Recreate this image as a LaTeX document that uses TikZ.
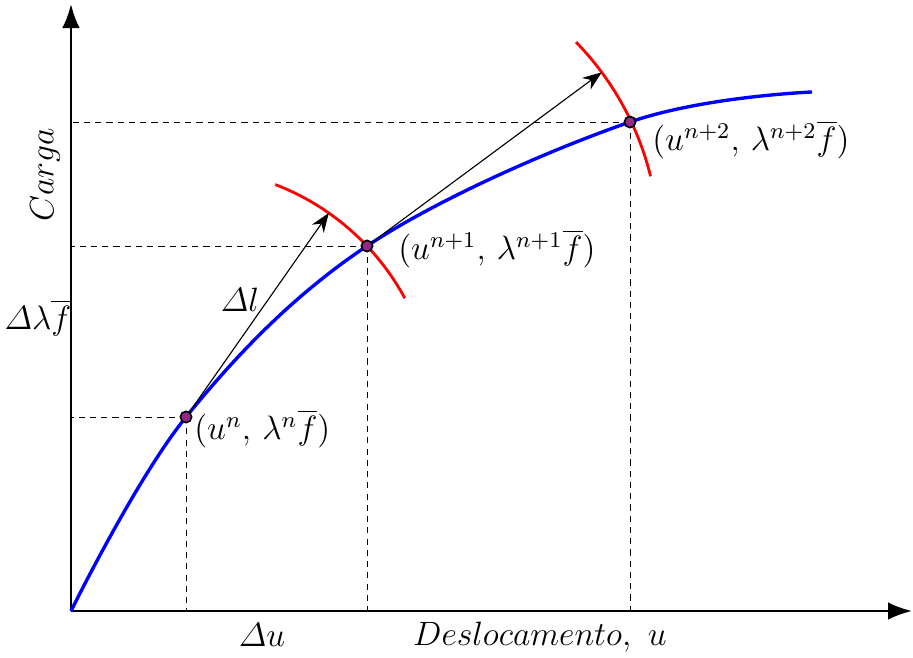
\documentclass[tikz,border=0pt]{standalone}
\usepackage{amsmath}
\usepackage{amssymb}
\usepackage{xcolor}
\usepackage{tikz}
\usetikzlibrary{arrows.meta, positioning, calc}

\definecolor{ptpurple}{RGB}{150,40,140}

\begin{document}
\begin{tikzpicture}[
    x=0.0125cm, y=0.0125cm,
    font=\large,
    axis/.style={-{Latex[length=3mm,width=2.2mm]}, line width=0.9pt},
    curve/.style={blue, line width=1.2pt},
    guide/.style={dash pattern=on 2.2pt off 1.8pt, line width=0.35pt},
    ring/.style={red, line width=1pt},
    vec/.style={-{Stealth[length=2.4mm,width=1.8mm]}, line width=0.4pt},
    pt/.style={circle, draw, line width=0.6pt, fill=ptpurple, inner sep=0pt, minimum size=1.4mm},
    lbl/.style={inner sep=1pt}
]
\useasboundingbox (-71,-46) rectangle (842,611);

% eixos
\coordinate (O) at (0,0);
\coordinate (X) at (841,0);
\coordinate (Y) at (0,607);
\draw[axis] (O) -- (X);
\draw[axis] (O) -- (Y);

% pontos de equilibrio
\coordinate (P1) at (115,194);
\coordinate (P2) at (296,365);
\coordinate (P3) at (559,489);
\coordinate (E) at (741,519);

\foreach \p in {P1, P2, P3} {
  \draw[guide] (\p) -- (\p -| O);
  \draw[guide] (\p) -- (\p |- O);
}

\draw[curve] plot[smooth, tension=0.6] coordinates {(O) (P1) (P2) (P3) (E)};

% arcos de comprimento constante
\draw[ring] ($(P1)+(69:249)$) arc[start angle=69, end angle=28.5, radius=249];
\draw[ring] ($(P2)+(44.3:292)$) arc[start angle=44.3, end angle=13.8, radius=292];

\coordinate (T1) at ($(P1)+(55:249)$);
\coordinate (T2) at ($(P2)+(36.5:292)$);
\draw[vec] (P1) -- (T1);
\draw[vec] (P2) -- (T2);

\foreach \p in {P1, P2, P3} \node[pt] (d\p) at (\p) {};

% rotulos
\node[lbl, anchor=west] (l1) at ($(P1)+(5,-12)$) {$(u^{n},\,\lambda^{n}\overline{f})$};
\node[lbl, anchor=west] (l2) at ($(P2)+(28,-3)$) {$(u^{n+1},\,\lambda^{n+1}\overline{f})$};
\node[lbl, anchor=west] (l3) at ($(P3)+(19,-18)$) {$(u^{n+2},\,\lambda^{n+2}\overline{f})$};
\node[lbl] (dl) at (169,311) {$\varDelta l$};
\node[lbl] (du) at (191,-24) {$\varDelta u$};
\node[lbl] (xl) at (469,-26) {$Deslocamento,\ u$};
\node[lbl, rotate=90] (yl) at (-26,436) {$Carga$};
\node[lbl] (dlf) at (-33,293) {$\varDelta\lambda\overline{f}$};
\end{tikzpicture}
\end{document}
